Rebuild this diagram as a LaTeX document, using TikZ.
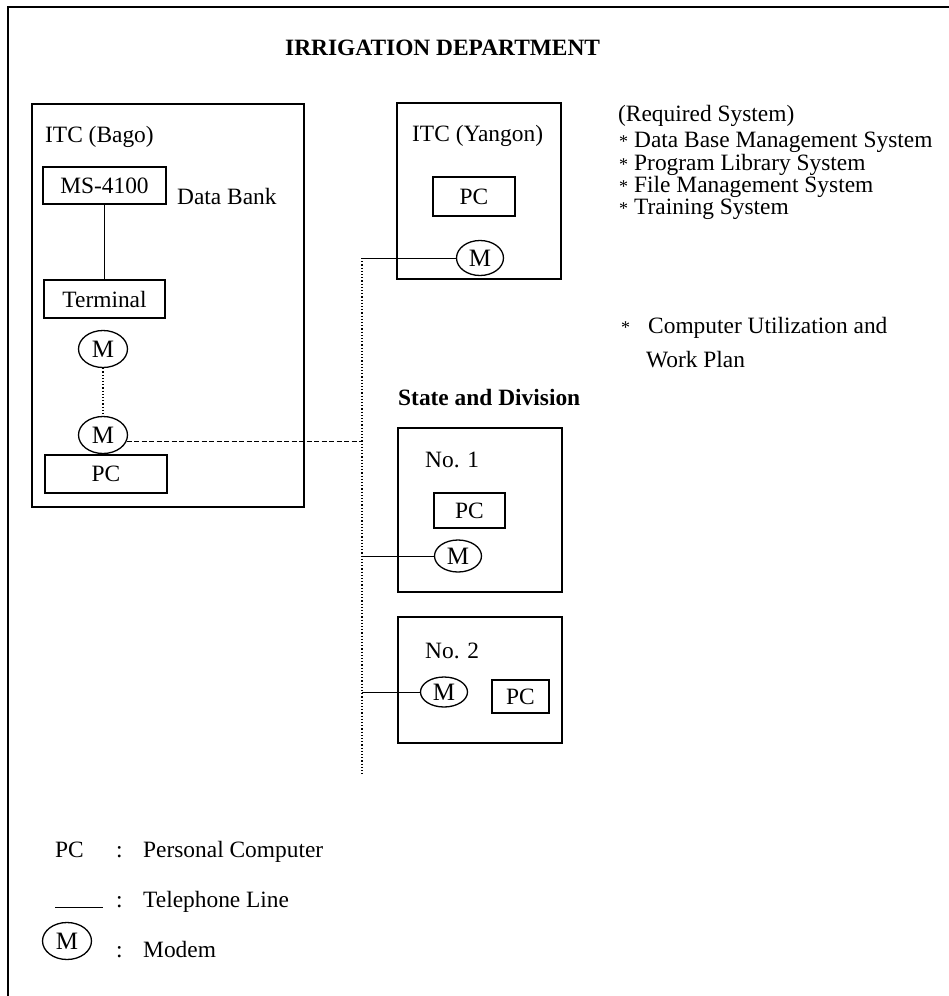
\documentclass[tikz,border=0pt]{standalone}
\usepackage{fontspec}
\setmainfont{Liberation Serif}
\usetikzlibrary{shapes.geometric}
\tikzset{
  every node/.style={font=\fontsize{23.4}{28}\selectfont, inner sep=0pt},
  frame/.style={draw, line width=1.8pt},
  unitbox/.style={draw, line width=1.5pt},
  modem/.style={draw, ellipse, line width=1.3pt, font=\fontsize{25}{28}\selectfont},
  txt/.style={anchor=base west},
  star/.style={anchor=base west, font=\fontsize{18}{20}\selectfont},
  ttl/.style={anchor=base west, font=\fontsize{23.4}{28}\selectfont\bfseries},
  thinline/.style={line width=1pt},
  dotline/.style={line width=1.2pt, dotted},
  dashline/.style={line width=1pt, dash pattern=on 5pt off 2.5pt}
}
\begin{document}
\begin{tikzpicture}[x=1pt,y=-1pt]
\useasboundingbox (0,0) rectangle (949,996);
% outer frame (partly visible)
\draw[line width=2.4pt] (949,7) -- (8,7) -- (8,996);

\node[ttl] (title) at (285,55) {IRRIGATION DEPARTMENT};

% ITC (Bago)
\node[frame, minimum width=272pt, minimum height=403pt] (bago) at (168,305.5) {};
\node[txt] (bagot) at (45,142) {ITC (Bago)};
\node[unitbox, minimum width=123pt, minimum height=37pt] (ms) at (104.5,185.5) {MS-4100};
\node[txt] (databank) at (177,204) {Data Bank};
\node[unitbox, minimum width=121pt, minimum height=38pt] (term) at (104.5,299) {Terminal};
\node[modem, minimum width=49pt, minimum height=37pt] (bm1) at (103,349) {M};
\node[modem, minimum width=49pt, minimum height=37pt] (bm2) at (103,435) {M};
\node[unitbox, minimum width=122pt, minimum height=38pt] (bpc) at (106,474) {PC};
\draw[line width=1.6pt] (ms.south) -- (term.north);
\draw[dotline] (bm1.south) -- (bm2.north);

% ITC (Yangon)
\node[frame, minimum width=164pt, minimum height=176pt] (yang) at (479,191) {};
\node[txt] (yangt) at (412,141) {ITC (Yangon)};
\node[unitbox, minimum width=82pt, minimum height=39pt] (ypc) at (474,196.5) {PC};
\node[modem, minimum width=47pt, minimum height=35pt] (ym) at (480,258) {M};

% State and Division
\node[ttl] (sdt) at (398,405) {State and Division};
\node[frame, minimum width=164pt, minimum height=164pt] (no1) at (480,510) {};
\node[txt] (no1t) at (425,467) {No. 1};
\node[unitbox, minimum width=71pt, minimum height=35pt] (n1pc) at (469.5,510.5) {PC};
\node[modem, minimum width=47pt, minimum height=32pt] (n1m) at (458,556) {M};

\node[frame, minimum width=164pt, minimum height=126pt] (no2) at (480,680) {};
\node[txt] (no2t) at (425,658) {No. 2};
\node[modem, minimum width=47pt, minimum height=30pt] (n2m) at (444,692) {M};
\node[unitbox, minimum width=57pt, minimum height=33pt] (n2pc) at (520.5,696.5) {PC};

% telephone network
\coordinate (vtop) at (362,258);
\coordinate (vbot) at (362,775);
\draw[thinline] (ym.west) -- (vtop);
\draw[dotline] (vtop) -- (vbot);
\draw[dashline] (bm2.-15) -- (bm2.-15 -| vtop);
\draw[thinline] (n1m.west) -- (n1m.west -| vtop);
\draw[thinline] (n2m.west) -- (n2m.west -| vtop);

% Required system
\node[txt] (req) at (618,121) {(Required System)};
\node[star] (b1) at (619,147) {*};
\node[txt] (r1) at (634,147) {Data Base Management System};
\node[star] (b2) at (619,170) {*};
\node[txt] (r2) at (634,170) {Program Library System};
\node[star] (b3) at (619,192) {*};
\node[txt] (r3) at (634,192) {File Management System};
\node[star] (b4) at (619,214) {*};
\node[txt] (r4) at (634,214) {Training System};
\node[star] (b5) at (621,333) {*};
\node[txt] (r5) at (648,333) {Computer Utilization and};
\node[txt] (r6) at (646,367) {Work Plan};

% legend
\node[txt] (lpc) at (55,857) {PC};
\node[txt] (lc1) at (116,857) {:};
\node[txt] (lpct) at (143,857) {Personal Computer};
\coordinate (tl1) at (55,907);
\coordinate (tl2) at (103,907);
\draw[thinline] (tl1) -- (tl2);
\node[txt] (lc2) at (116,907) {:};
\node[txt] (ltel) at (143,907) {Telephone Line};
\node[modem, minimum width=49pt, minimum height=37pt] (lm) at (67,941) {M};
\node[txt] (lc3) at (116,957) {:};
\node[txt] (lmod) at (143,957) {Modem};
\end{tikzpicture}
\end{document}
